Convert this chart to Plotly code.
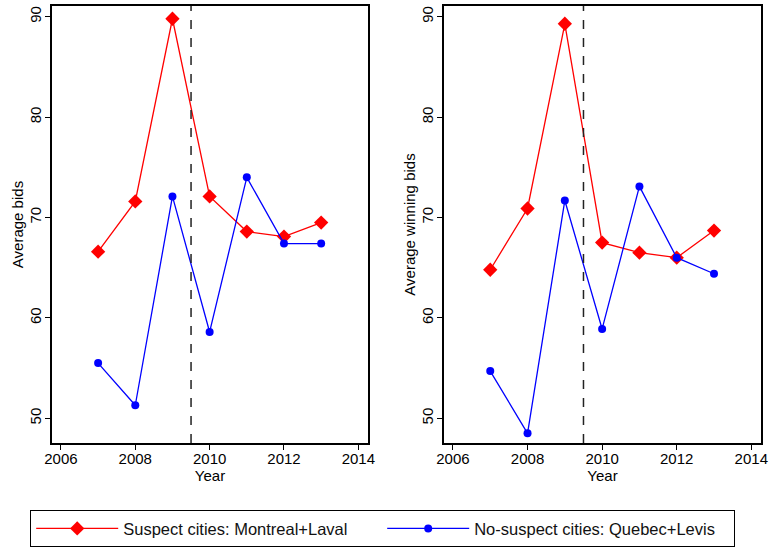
import plotly.graph_objects as go
from plotly.subplots import make_subplots

years = [2007, 2008, 2009, 2010, 2011, 2012, 2013]

# left panel: average bids
suspect_bids = [66.6, 71.6, 89.8, 72.1, 68.6, 68.1, 69.5]
nosuspect_bids = [55.5, 51.3, 72.1, 58.6, 74.0, 67.4, 67.4]

# right panel: average winning bids
suspect_win = [64.8, 70.9, 89.3, 67.5, 66.5, 66.0, 68.7]
nosuspect_win = [54.7, 48.5, 71.7, 58.9, 73.1, 66.0, 64.4]

x_ticks = [2006, 2008, 2010, 2012, 2014]
y_ticks = [50, 60, 70, 80, 90]
cutoff = 2009.5

red = "#FF0000"
blue = "#0000FF"
font_family = "Liberation Sans, Arial, Helvetica, sans-serif"

fig = make_subplots(rows=1, cols=2)

panels = [(suspect_bids, nosuspect_bids), (suspect_win, nosuspect_win)]
for i, (sus, nosus) in enumerate(panels, start=1):
    fig.add_trace(go.Scatter(
        x=years, y=sus, mode="lines+markers",
        name="Suspect cities: Montreal+Laval",
        line=dict(color=red, width=1.3),
        marker=dict(symbol="diamond", size=11, color=red),
        showlegend=(i == 1), legendrank=1,
    ), row=1, col=i)
    fig.add_trace(go.Scatter(
        x=years, y=nosus, mode="lines+markers",
        name="No-suspect cities: Quebec+Levis",
        line=dict(color=blue, width=1.3),
        marker=dict(symbol="circle", size=8, color=blue),
        showlegend=(i == 1), legendrank=2,
    ), row=1, col=i)
    # dashed vertical line at the break
    fig.add_shape(type="line", x0=cutoff, x1=cutoff, y0=0, y1=1,
                  xref="x" if i == 1 else "x2",
                  yref="y domain" if i == 1 else "y2 domain",
                  line=dict(color="#222222", width=1.5, dash="dash"))

axis_common = dict(
    showline=True, mirror=True, linecolor="black", linewidth=1.5,
    ticks="outside", ticklen=5, tickwidth=1.2, tickcolor="black",
    showgrid=False, zeroline=False, automargin=False,
    tickfont=dict(size=15, color="black", family=font_family),
)

fig.update_xaxes(**axis_common, range=[2005.76, 2014.26], tickvals=x_ticks,
                 ticklabelstandoff=-4,
                 title=dict(text="Year", standoff=2,
                            font=dict(size=15, color="black", family=font_family)))
fig.update_yaxes(**axis_common, range=[47.54, 91.07], tickvals=y_ticks, tickangle=-90,
                 ticklabelstandoff=-2)

fig.update_xaxes(domain=[52 / 770, 368 / 770], row=1, col=1)
fig.update_xaxes(domain=[444 / 770, 761 / 770], row=1, col=2)
fig.update_yaxes(domain=[1 - 443 / 548, 1 - 6 / 548])
fig.update_yaxes(title=dict(text="Average bids", standoff=0,
                            font=dict(size=15, color="black", family=font_family)),
                 row=1, col=1)
fig.update_yaxes(title=dict(text="Average winning bids", standoff=0,
                            font=dict(size=15, color="black", family=font_family)),
                 row=1, col=2)

fig.update_layout(
    width=770, height=548,
    margin=dict(l=0, r=0, t=0, b=0, autoexpand=False),
    paper_bgcolor="white", plot_bgcolor="white",
    font=dict(family=font_family, size=14, color="black"),
    legend=dict(
        orientation="h", x=30 / 770, xanchor="left",
        y=1 - 510 / 548, yanchor="top",
        bordercolor="black", borderwidth=1.2, bgcolor="white",
        itemwidth=82, entrywidth=254, entrywidthmode="pixels",
        font=dict(size=16.5, color="#111111", family=font_family),
        traceorder="normal",
    ),
)

# drop the default page margin so the figure fills the window
fig.write_html("out.html", config={"displayModeBar": False},
               post_script="document.body.style.margin='0px';")
